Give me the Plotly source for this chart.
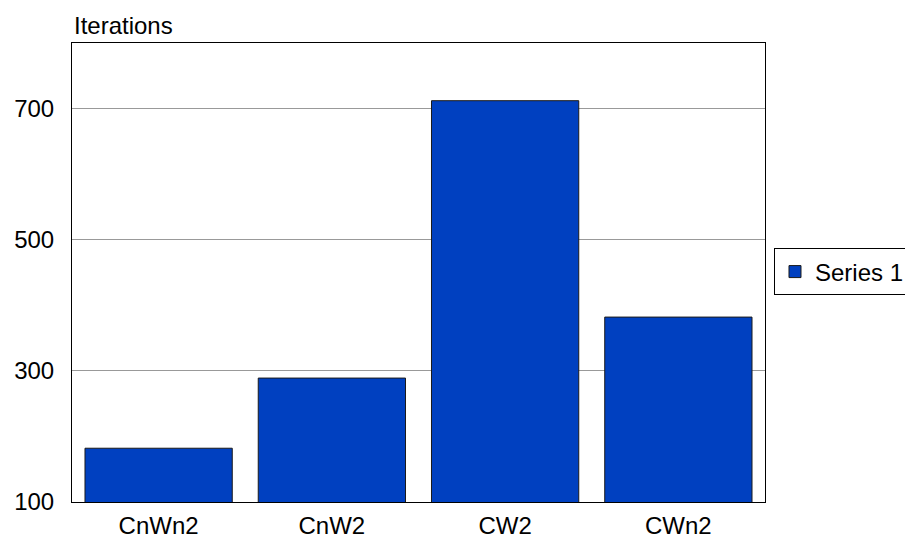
import plotly.graph_objects as go

categories = ["CnWn2", "CnW2", "CW2", "CWn2"]
iterations = [182, 289, 712, 382]
y_ticks = [100, 300, 500, 700]

FONT = "Liberation Sans, Arial, sans-serif"

fig = go.Figure()
fig.add_trace(
    go.Bar(
        x=categories,
        y=iterations,
        base=0,
        name="Series 1",
        marker=dict(color="#0040C0", line=dict(color="#1a1a1a", width=1)),
        showlegend=True,
    )
)

# page body has an 8px margin, so the margins are shifted to match;
# the legend is container-placed and runs off the right edge like the original
fig.update_layout(
    width=905,
    height=536,
    margin=dict(l=64, r=148, t=35, b=42),
    paper_bgcolor="white",
    plot_bgcolor="white",
    bargap=0.15,
    font=dict(family=FONT, size=24, color="black"),
    legend=dict(
        xref="container",
        yref="container",
        x=0.8464,
        y=0.5075,
        xanchor="left",
        yanchor="middle",
        bordercolor="black",
        borderwidth=1,
        font=dict(size=24),
    ),
    annotations=[
        dict(
            text="Iterations",
            x=0,
            y=1,
            xref="paper",
            yref="paper",
            xanchor="left",
            yanchor="bottom",
            yshift=2,
            showarrow=False,
            font=dict(size=24),
        )
    ],
)
fig.update_xaxes(
    showline=True,
    linecolor="black",
    linewidth=1,
    mirror=True,
    ticks="",
    showgrid=False,
    ticklabelstandoff=2,
    automargin=False,
)
fig.update_yaxes(
    range=[100, 800],
    tickvals=y_ticks,
    showline=True,
    linecolor="black",
    linewidth=1,
    mirror=True,
    showgrid=True,
    gridcolor="#999999",
    gridwidth=1,
    zeroline=False,
    ticks="",
    ticklabelstandoff=12,
    automargin=False,
)

fig.write_html("out.html")
